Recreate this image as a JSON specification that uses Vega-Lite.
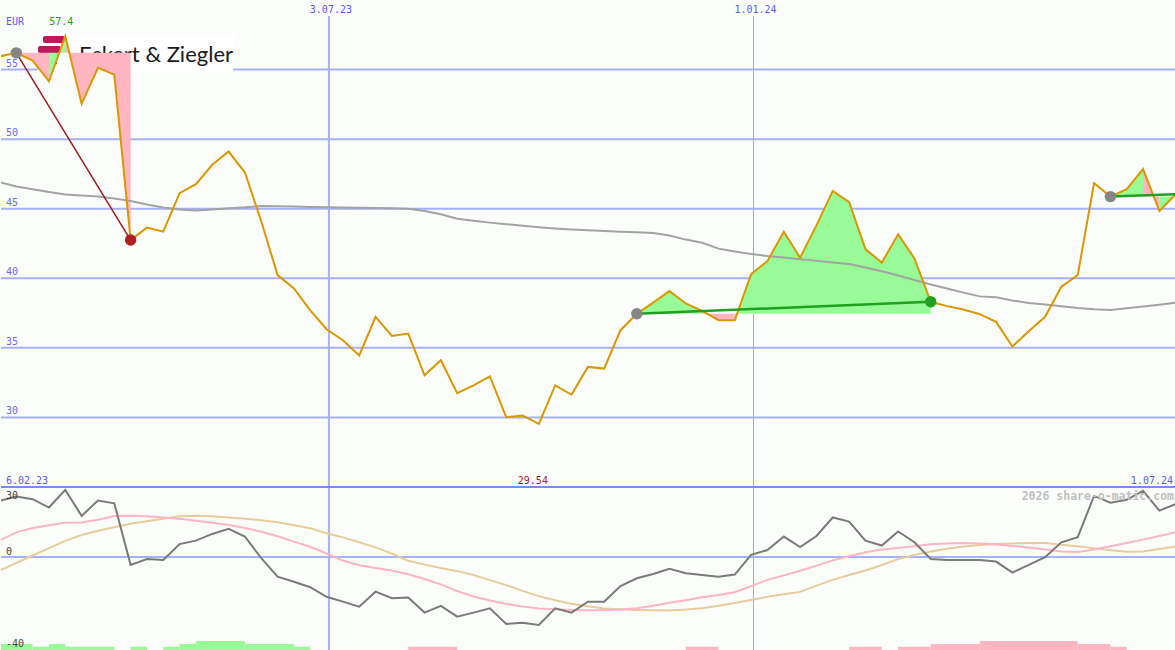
{
  "$schema": "https://vega.github.io/schema/vega-lite/v6.json",
  "background": "#fbfdfb",
  "padding": 0,
  "spacing": 0,
  "bounds": "flush",
  "config": {"view": {"stroke": null}, "text": {"font": "DejaVu Sans Mono", "fontSize": 10}},
  "resolve": {"scale": {"y": "independent", "color": "independent", "fill": "independent"}},
  "datasets": {
    "px": [
      {"d":"2023-02-12","p":55.95,"ma":46.9,"o":27.6,"pk":8.2,"tn":-6.6},
      {"d":"2023-02-19","p":56.2,"ma":46.6,"o":29.7,"pk":12.1,"tn":-3.0},
      {"d":"2023-02-26","p":55.65,"ma":46.4,"o":28.4,"pk":14.2,"tn":0.7},
      {"d":"2023-03-05","p":54.16,"ma":46.2,"o":24.3,"pk":15.6,"tn":4.3},
      {"d":"2023-03-12","p":57.4,"ma":46.03,"o":33.0,"pk":16.8,"tn":7.9},
      {"d":"2023-03-19","p":52.55,"ma":45.95,"o":20.2,"pk":16.9,"tn":10.8},
      {"d":"2023-03-26","p":55.12,"ma":45.88,"o":27.7,"pk":18.3,"tn":12.9},
      {"d":"2023-04-02","p":54.64,"ma":45.73,"o":26.4,"pk":20.1,"tn":14.6},
      {"d":"2023-04-09","p":42.75,"ma":45.55,"o":-3.9,"pk":20.2,"tn":16.3},
      {"d":"2023-04-16","p":43.64,"ma":45.3,"o":-1.0,"pk":20.0,"tn":17.6},
      {"d":"2023-04-23","p":43.35,"ma":45.08,"o":-1.5,"pk":19.4,"tn":18.8},
      {"d":"2023-04-30","p":46.12,"ma":44.95,"o":6.3,"pk":18.8,"tn":20.0},
      {"d":"2023-05-07","p":46.76,"ma":44.87,"o":8.0,"pk":17.8,"tn":20.2},
      {"d":"2023-05-14","p":48.16,"ma":44.95,"o":11.3,"pk":16.8,"tn":20.0},
      {"d":"2023-05-21","p":49.11,"ma":45.03,"o":13.8,"pk":15.7,"tn":19.4},
      {"d":"2023-05-28","p":47.6,"ma":45.1,"o":10.0,"pk":14.2,"tn":18.8},
      {"d":"2023-06-04","p":44.1,"ma":45.2,"o":-0.6,"pk":12.4,"tn":18.0},
      {"d":"2023-06-11","p":40.23,"ma":45.18,"o":-9.7,"pk":10.2,"tn":17.0},
      {"d":"2023-06-18","p":39.27,"ma":45.16,"o":-12.2,"pk":7.5,"tn":15.6},
      {"d":"2023-06-25","p":37.7,"ma":45.13,"o":-14.9,"pk":5.0,"tn":14.1},
      {"d":"2023-07-02","p":36.34,"ma":45.1,"o":-19.6,"pk":1.7,"tn":11.6},
      {"d":"2023-07-09","p":35.55,"ma":45.09,"o":-22.0,"pk":-1.8,"tn":9.6},
      {"d":"2023-07-16","p":34.45,"ma":45.07,"o":-24.5,"pk":-4.1,"tn":7.2},
      {"d":"2023-07-23","p":37.23,"ma":45.05,"o":-17.1,"pk":-5.4,"tn":4.7},
      {"d":"2023-07-30","p":35.86,"ma":45.03,"o":-20.3,"pk":-6.7,"tn":1.6},
      {"d":"2023-08-06","p":36.03,"ma":45.0,"o":-20.0,"pk":-8.5,"tn":-1.9},
      {"d":"2023-08-13","p":33.03,"ma":44.83,"o":-27.4,"pk":-10.9,"tn":-3.8},
      {"d":"2023-08-20","p":34.11,"ma":44.6,"o":-24.1,"pk":-13.5,"tn":-5.5},
      {"d":"2023-08-27","p":31.75,"ma":44.28,"o":-29.4,"pk":-16.8,"tn":-7.0},
      {"d":"2023-09-03","p":32.3,"ma":44.13,"o":-27.4,"pk":-19.5,"tn":-8.9},
      {"d":"2023-09-10","p":32.95,"ma":44.0,"o":-25.3,"pk":-21.4,"tn":-11.4},
      {"d":"2023-09-17","p":30.02,"ma":43.89,"o":-33.0,"pk":-23.2,"tn":-13.9},
      {"d":"2023-09-24","p":30.14,"ma":43.77,"o":-32.4,"pk":-24.4,"tn":-16.7},
      {"d":"2023-10-01","p":29.54,"ma":43.66,"o":-33.5,"pk":-25.4,"tn":-19.3},
      {"d":"2023-10-08","p":32.3,"ma":43.57,"o":-25.3,"pk":-25.8,"tn":-21.3},
      {"d":"2023-10-15","p":31.63,"ma":43.5,"o":-27.4,"pk":-26.1,"tn":-23.1},
      {"d":"2023-10-22","p":33.63,"ma":43.45,"o":-22.0,"pk":-26.3,"tn":-24.3},
      {"d":"2023-10-29","p":33.51,"ma":43.39,"o":-22.0,"pk":-26.3,"tn":-25.4},
      {"d":"2023-11-05","p":36.27,"ma":43.34,"o":-14.3,"pk":-25.9,"tn":-25.8},
      {"d":"2023-11-12","p":37.45,"ma":43.3,"o":-10.5,"pk":-25.3,"tn":-26.1},
      {"d":"2023-11-19","p":38.25,"ma":43.25,"o":-8.4,"pk":-24.0,"tn":-26.3},
      {"d":"2023-11-26","p":39.08,"ma":43.07,"o":-5.9,"pk":-22.6,"tn":-26.4},
      {"d":"2023-12-03","p":38.19,"ma":42.78,"o":-8.0,"pk":-21.3,"tn":-25.9},
      {"d":"2023-12-10","p":37.66,"ma":42.55,"o":-8.9,"pk":-19.8,"tn":-25.2},
      {"d":"2023-12-17","p":36.99,"ma":42.13,"o":-9.7,"pk":-18.7,"tn":-24.0},
      {"d":"2023-12-24","p":36.99,"ma":41.92,"o":-8.7,"pk":-17.4,"tn":-22.7},
      {"d":"2023-12-31","p":40.3,"ma":41.74,"o":1.0,"pk":-14.4,"tn":-21.2},
      {"d":"2024-01-07","p":41.24,"ma":41.6,"o":3.4,"pk":-11.3,"tn":-19.6},
      {"d":"2024-01-14","p":43.35,"ma":41.49,"o":10.0,"pk":-9.1,"tn":-18.4},
      {"d":"2024-01-21","p":41.48,"ma":41.37,"o":4.8,"pk":-6.8,"tn":-17.2},
      {"d":"2024-01-28","p":43.8,"ma":41.26,"o":10.3,"pk":-4.3,"tn":-14.1},
      {"d":"2024-02-04","p":46.28,"ma":41.14,"o":19.4,"pk":-1.7,"tn":-11.3},
      {"d":"2024-02-11","p":45.47,"ma":41.03,"o":17.4,"pk":0.3,"tn":-8.9},
      {"d":"2024-02-18","p":42.1,"ma":40.78,"o":8.0,"pk":2.3,"tn":-6.7},
      {"d":"2024-02-25","p":41.12,"ma":40.5,"o":5.6,"pk":3.7,"tn":-4.0},
      {"d":"2024-03-03","p":43.16,"ma":40.2,"o":12.5,"pk":4.4,"tn":-1.1},
      {"d":"2024-03-10","p":41.43,"ma":39.88,"o":7.2,"pk":5.3,"tn":1.0},
      {"d":"2024-03-17","p":38.31,"ma":39.55,"o":-1.0,"pk":6.2,"tn":2.7},
      {"d":"2024-03-24","p":38.0,"ma":39.27,"o":-1.5,"pk":6.6,"tn":4.0},
      {"d":"2024-03-31","p":37.75,"ma":38.97,"o":-1.5,"pk":6.9,"tn":5.1},
      {"d":"2024-04-07","p":37.42,"ma":38.7,"o":-1.5,"pk":6.6,"tn":5.9},
      {"d":"2024-04-14","p":36.87,"ma":38.64,"o":-2.3,"pk":6.1,"tn":6.3},
      {"d":"2024-04-21","p":35.1,"ma":38.4,"o":-7.7,"pk":5.4,"tn":6.6},
      {"d":"2024-04-28","p":36.2,"ma":38.23,"o":-3.9,"pk":4.6,"tn":6.9},
      {"d":"2024-05-05","p":37.23,"ma":38.11,"o":-0.1,"pk":3.6,"tn":6.8},
      {"d":"2024-05-12","p":39.39,"ma":37.99,"o":7.2,"pk":2.7,"tn":6.0},
      {"d":"2024-05-19","p":40.23,"ma":37.87,"o":9.7,"pk":2.4,"tn":5.2},
      {"d":"2024-05-26","p":46.84,"ma":37.78,"o":30.0,"pk":3.6,"tn":4.2},
      {"d":"2024-06-02","p":45.87,"ma":37.72,"o":26.7,"pk":5.2,"tn":3.3},
      {"d":"2024-06-09","p":46.4,"ma":37.85,"o":28.1,"pk":6.8,"tn":2.5},
      {"d":"2024-06-16","p":47.85,"ma":37.97,"o":32.5,"pk":8.5,"tn":2.7},
      {"d":"2024-06-23","p":44.84,"ma":38.1,"o":22.8,"pk":10.3,"tn":3.9},
      {"d":"2024-06-30","p":46.04,"ma":38.24,"o":26.0,"pk":12.2,"tn":5.1}
    ],
    "fill": [
      {"g":"A","s":"dn","d":"2023-02-19","p":56.2,"l":56.2},
      {"g":"A","s":"dn","d":"2023-02-26","p":55.65,"l":56.2},
      {"g":"A","s":"dn","d":"2023-03-05","p":54.16,"l":56.2},
      {"g":"B","s":"up","d":"2023-03-05","p":54.16,"l":56.2},
      {"g":"B","s":"up","d":"2023-03-12","p":57.4,"l":56.2},
      {"g":"C","s":"dn","d":"2023-03-12","p":57.4,"l":56.2},
      {"g":"C","s":"dn","d":"2023-03-19","p":52.55,"l":56.2},
      {"g":"C","s":"dn","d":"2023-03-26","p":55.12,"l":56.2},
      {"g":"C","s":"dn","d":"2023-04-02","p":54.64,"l":56.2},
      {"g":"C","s":"dn","d":"2023-04-09","p":42.75,"l":56.2},
      {"g":"D","s":"up","d":"2023-11-12","p":37.45,"l":37.45},
      {"g":"D","s":"up","d":"2023-11-19","p":38.25,"l":37.45},
      {"g":"D","s":"up","d":"2023-11-26","p":39.08,"l":37.45},
      {"g":"D","s":"up","d":"2023-12-03","p":38.19,"l":37.45},
      {"g":"D","s":"up","d":"2023-12-10","p":37.66,"l":37.45},
      {"g":"E","s":"dn","d":"2023-12-10","p":37.66,"l":37.45},
      {"g":"E","s":"dn","d":"2023-12-17","p":36.99,"l":37.45},
      {"g":"E","s":"dn","d":"2023-12-24","p":36.99,"l":37.45},
      {"g":"F","s":"up","d":"2023-12-24","p":36.99,"l":37.45},
      {"g":"F","s":"up","d":"2023-12-31","p":40.3,"l":37.45},
      {"g":"F","s":"up","d":"2024-01-07","p":41.24,"l":37.45},
      {"g":"F","s":"up","d":"2024-01-14","p":43.35,"l":37.45},
      {"g":"F","s":"up","d":"2024-01-21","p":41.48,"l":37.45},
      {"g":"F","s":"up","d":"2024-01-28","p":43.8,"l":37.45},
      {"g":"F","s":"up","d":"2024-02-04","p":46.28,"l":37.45},
      {"g":"F","s":"up","d":"2024-02-11","p":45.47,"l":37.45},
      {"g":"F","s":"up","d":"2024-02-18","p":42.1,"l":37.45},
      {"g":"F","s":"up","d":"2024-02-25","p":41.12,"l":37.45},
      {"g":"F","s":"up","d":"2024-03-03","p":43.16,"l":37.45},
      {"g":"F","s":"up","d":"2024-03-10","p":41.43,"l":37.45},
      {"g":"F","s":"up","d":"2024-03-17","p":38.31,"l":37.45},
      {"g":"G","s":"up","d":"2024-06-02","p":45.87,"l":45.87},
      {"g":"G","s":"up","d":"2024-06-09","p":46.4,"l":45.87},
      {"g":"G","s":"up","d":"2024-06-16","p":47.85,"l":45.87},
      {"g":"H","s":"dn","d":"2024-06-16","p":47.85,"l":45.87},
      {"g":"H","s":"dn","d":"2024-06-23","p":44.84,"l":45.87},
      {"g":"I","s":"up","d":"2024-06-23","p":44.84,"l":45.87},
      {"g":"I","s":"up","d":"2024-06-30","p":46.04,"l":45.87}
    ],
    "trades": [
      {"t":"t1","d":"2023-02-19","p":56.2},
      {"t":"t1","d":"2023-04-09","p":42.75},
      {"t":"t2","d":"2023-11-12","p":37.45},
      {"t":"t2","d":"2024-03-17","p":38.31},
      {"t":"t3","d":"2024-06-02","p":45.87},
      {"t":"t3","d":"2024-06-30","p":46.04}
    ],
    "pts": [
      {"k":"entry","d":"2023-02-19","p":56.2},
      {"k":"loss","d":"2023-04-09","p":42.75},
      {"k":"entry","d":"2023-11-12","p":37.45},
      {"k":"win","d":"2024-03-17","p":38.31},
      {"k":"entry","d":"2024-06-02","p":45.87}
    ],
    "logo": [
      {"a":"2023-03-02T10:30:00Z","b":"2023-03-11T20:00:00Z","y1":57.41,"y2":56.91},
      {"a":"2023-02-28T07:00:00Z","b":"2023-03-10T04:00:00Z","y1":56.69,"y2":56.19},
      {"a":"2023-03-02T21:00:00Z","b":"2023-03-08T10:30:00Z","y1":55.98,"y2":55.33}
    ],
    "bars": [
      {"s":"up","a":"2023-02-12","b":"2023-02-26","top":-42.85},
      {"s":"up","a":"2023-02-26","b":"2023-03-05","top":-44.2},
      {"s":"up","a":"2023-03-05","b":"2023-03-12","top":-42.85},
      {"s":"up","a":"2023-03-12","b":"2023-04-02","top":-44.2},
      {"s":"up","a":"2023-04-09","b":"2023-04-16","top":-44.2},
      {"s":"up","a":"2023-04-23","b":"2023-04-30","top":-44.2},
      {"s":"up","a":"2023-04-30","b":"2023-05-07","top":-42.85},
      {"s":"up","a":"2023-05-07","b":"2023-05-28","top":-41.4},
      {"s":"up","a":"2023-05-28","b":"2023-06-18","top":-42.85},
      {"s":"up","a":"2023-06-18","b":"2023-06-25","top":-44.2},
      {"s":"dn","a":"2023-08-06","b":"2023-08-27","top":-44.2},
      {"s":"dn","a":"2023-12-03","b":"2023-12-17","top":-44.2},
      {"s":"dn","a":"2024-02-11","b":"2024-02-25","top":-44.2},
      {"s":"dn","a":"2024-03-03","b":"2024-03-17","top":-44.2},
      {"s":"dn","a":"2024-03-17","b":"2024-04-07","top":-42.85},
      {"s":"dn","a":"2024-04-07","b":"2024-05-19","top":-41.4},
      {"s":"dn","a":"2024-05-19","b":"2024-06-02","top":-42.85},
      {"s":"dn","a":"2024-06-02","b":"2024-06-09","top":-44.2}
    ]
  },
  "vconcat": [
    {
      "width": 1175,
      "height": 487,
      "resolve": {"scale": {"color": "independent", "fill": "independent"}},
      "layer": [
        {
          "data": {"values": [{"v":30},{"v":35},{"v":40},{"v":45},{"v":50},{"v":55}]},
          "mark": {"type": "rule", "color": "#a7b1f5", "strokeWidth": 2},
          "encoding": {"y": {"field": "v", "type": "quantitative", "scale": {"domain": [25, 60], "nice": false, "zero": false}, "axis": null}}
        },
        {
          "data": {"values": [{}]},
          "mark": {"type": "rule", "color": "#a7b1f5", "strokeWidth": 2},
          "encoding": {
            "x": {"datum": {"year":2023,"month":7,"date":3,"utc":true}, "type": "temporal", "scale": {"type":"utc","domain":[{"year":2023,"month":2,"date":12,"hours":10,"minutes":30,"utc":true},{"year":2024,"month":6,"date":30,"hours":3,"utc":true}]}, "axis": null},
            "y": {"datum": 58.85, "type": "quantitative", "scale": {"domain": [25, 60], "nice": false, "zero": false}, "axis": null},
            "y2": {"datum": 25}
          }
        },
        {
          "data": {"values": [{}]},
          "mark": {"type": "rule", "color": "#9ea8ee", "strokeWidth": 1},
          "encoding": {
            "x": {"datum": {"year":2024,"month":1,"date":1,"utc":true}, "type": "temporal", "scale": {"type":"utc","domain":[{"year":2023,"month":2,"date":12,"hours":10,"minutes":30,"utc":true},{"year":2024,"month":6,"date":30,"hours":3,"utc":true}]}, "axis": null},
            "y": {"datum": 58.85, "type": "quantitative", "scale": {"domain": [25, 60], "nice": false, "zero": false}, "axis": null},
            "y2": {"datum": 25}
          }
        },
        {
          "data": {"values": [{}]},
          "mark": {"type": "rect", "color": "#ffffff"},
          "encoding": {
            "x": {"datum": {"year":2023,"month":2,"date":28,"hours":7,"utc":true}, "type": "temporal", "scale": {"type":"utc","domain":[{"year":2023,"month":2,"date":12,"hours":10,"minutes":30,"utc":true},{"year":2024,"month":6,"date":30,"hours":3,"utc":true}]}, "axis": null},
            "x2": {"datum": {"year":2023,"month":5,"date":23,"utc":true}},
            "y": {"datum": 57.6, "type": "quantitative", "scale": {"domain": [25, 60], "nice": false, "zero": false}, "axis": null},
            "y2": {"datum": 54.85}
          }
        },
        {
          "data": {"name": "logo"},
          "mark": {"type": "rect", "color": "#c0185a", "cornerRadius": 2},
          "encoding": {
            "x": {"field": "a", "type": "temporal", "scale": {"type":"utc","domain":[{"year":2023,"month":2,"date":12,"hours":10,"minutes":30,"utc":true},{"year":2024,"month":6,"date":30,"hours":3,"utc":true}]}, "axis": null},
            "x2": {"field": "b"},
            "y": {"field": "y1", "type": "quantitative", "scale": {"domain": [25, 60], "nice": false, "zero": false}, "axis": null},
            "y2": {"field": "y2"}
          }
        },
        {
          "data": {"values": [{"t": "Eckert & Ziegler"}]},
          "mark": {"type": "text", "font": "Lato", "fontSize": 22, "color": "#1a1a1a", "align": "left", "baseline": "alphabetic"},
          "encoding": {
            "x": {"datum": {"year":2023,"month":3,"date":17,"hours":21,"utc":true}, "type": "temporal", "scale": {"type":"utc","domain":[{"year":2023,"month":2,"date":12,"hours":10,"minutes":30,"utc":true},{"year":2024,"month":6,"date":30,"hours":3,"utc":true}]}, "axis": null},
            "y": {"datum": 55.57, "type": "quantitative", "scale": {"domain": [25, 60], "nice": false, "zero": false}, "axis": null},
            "text": {"field": "t"}
          }
        },
        {
          "data": {"name": "fill"},
          "mark": {"type": "area", "interpolate": "linear", "opacity": 1},
          "encoding": {
            "x": {"field": "d", "type": "temporal", "scale": {"type":"utc","domain":[{"year":2023,"month":2,"date":12,"hours":10,"minutes":30,"utc":true},{"year":2024,"month":6,"date":30,"hours":3,"utc":true}]}, "axis": null},
            "y": {"field": "p", "type": "quantitative", "scale": {"domain": [25, 60], "nice": false, "zero": false}, "axis": null},
            "y2": {"field": "l"},
            "color": {"field": "s", "type": "nominal", "scale": {"domain": ["up", "dn"], "range": ["#98fb98", "#ffb6c1"]}, "legend": null},
            "detail": {"field": "g"}
          }
        },
        {
          "data": {"name": "px"},
          "mark": {"type": "line", "color": "#a3a3a3", "strokeWidth": 2, "clip": true},
          "encoding": {
            "x": {"field": "d", "type": "temporal", "scale": {"type":"utc","domain":[{"year":2023,"month":2,"date":12,"hours":10,"minutes":30,"utc":true},{"year":2024,"month":6,"date":30,"hours":3,"utc":true}]}, "axis": null},
            "y": {"field": "ma", "type": "quantitative", "scale": {"domain": [25, 60], "nice": false, "zero": false}, "axis": null}
          }
        },
        {
          "data": {"name": "px"},
          "mark": {"type": "line", "color": "#dc9600", "strokeWidth": 2, "clip": true},
          "encoding": {
            "x": {"field": "d", "type": "temporal", "scale": {"type":"utc","domain":[{"year":2023,"month":2,"date":12,"hours":10,"minutes":30,"utc":true},{"year":2024,"month":6,"date":30,"hours":3,"utc":true}]}, "axis": null},
            "y": {"field": "p", "type": "quantitative", "scale": {"domain": [25, 60], "nice": false, "zero": false}, "axis": null}
          }
        },
        {
          "data": {"name": "trades"},
          "transform": [{"filter": "datum.t === 't1'"}],
          "mark": {"type": "line", "color": "#a01c1c", "strokeWidth": 1.5},
          "encoding": {
            "x": {"field": "d", "type": "temporal", "scale": {"type":"utc","domain":[{"year":2023,"month":2,"date":12,"hours":10,"minutes":30,"utc":true},{"year":2024,"month":6,"date":30,"hours":3,"utc":true}]}, "axis": null},
            "y": {"field": "p", "type": "quantitative", "scale": {"domain": [25, 60], "nice": false, "zero": false}, "axis": null}
          }
        },
        {
          "data": {"name": "trades"},
          "transform": [{"filter": "datum.t !== 't1'"}],
          "mark": {"type": "line", "color": "#22a022", "strokeWidth": 2.5},
          "encoding": {
            "x": {"field": "d", "type": "temporal", "scale": {"type":"utc","domain":[{"year":2023,"month":2,"date":12,"hours":10,"minutes":30,"utc":true},{"year":2024,"month":6,"date":30,"hours":3,"utc":true}]}, "axis": null},
            "y": {"field": "p", "type": "quantitative", "scale": {"domain": [25, 60], "nice": false, "zero": false}, "axis": null},
            "detail": {"field": "t"}
          }
        },
        {
          "data": {"name": "pts"},
          "mark": {"type": "circle", "size": 130, "opacity": 1},
          "encoding": {
            "x": {"field": "d", "type": "temporal", "scale": {"type":"utc","domain":[{"year":2023,"month":2,"date":12,"hours":10,"minutes":30,"utc":true},{"year":2024,"month":6,"date":30,"hours":3,"utc":true}]}, "axis": null},
            "y": {"field": "p", "type": "quantitative", "scale": {"domain": [25, 60], "nice": false, "zero": false}, "axis": null},
            "fill": {"field": "k", "type": "nominal", "scale": {"domain": ["entry", "loss", "win"], "range": ["#858585", "#b02020", "#22a022"]}, "legend": null}
          }
        },
        {
          "data": {"values": [{"v":55,"t":"55"},{"v":50,"t":"50"},{"v":45,"t":"45"},{"v":40,"t":"40"},{"v":35,"t":"35"},{"v":30,"t":"30"}]},
          "mark": {"type": "text", "align": "left", "baseline": "alphabetic", "dx": 5, "dy": -3, "color": "#6a6af0"},
          "encoding": {
            "x": {"datum": {"year":2023,"month":2,"date":12,"hours":10,"minutes":30,"utc":true}, "type": "temporal", "scale": {"type":"utc","domain":[{"year":2023,"month":2,"date":12,"hours":10,"minutes":30,"utc":true},{"year":2024,"month":6,"date":30,"hours":3,"utc":true}]}, "axis": null},
            "y": {"field": "v", "type": "quantitative", "scale": {"domain": [25, 60], "nice": false, "zero": false}, "axis": null},
            "text": {"field": "t"}
          }
        },
        {
          "data": {"values": [{"t": "EUR"}]},
          "mark": {"type": "text", "align": "left", "baseline": "alphabetic", "dx": 5, "color": "#5a5af0"},
          "encoding": {
            "x": {"datum": {"year":2023,"month":2,"date":12,"hours":10,"minutes":30,"utc":true}, "type": "temporal", "scale": {"type":"utc","domain":[{"year":2023,"month":2,"date":12,"hours":10,"minutes":30,"utc":true},{"year":2024,"month":6,"date":30,"hours":3,"utc":true}]}, "axis": null},
            "y": {"datum": 58.2, "type": "quantitative", "scale": {"domain": [25, 60], "nice": false, "zero": false}, "axis": null},
            "text": {"field": "t"}
          }
        },
        {
          "data": {"values": [{"t": "57.4"}]},
          "mark": {"type": "text", "align": "center", "baseline": "alphabetic", "dx": -4, "color": "#20a020"},
          "encoding": {
            "x": {"datum": {"year":2023,"month":3,"date":12,"utc":true}, "type": "temporal", "scale": {"type":"utc","domain":[{"year":2023,"month":2,"date":12,"hours":10,"minutes":30,"utc":true},{"year":2024,"month":6,"date":30,"hours":3,"utc":true}]}, "axis": null},
            "y": {"datum": 58.2, "type": "quantitative", "scale": {"domain": [25, 60], "nice": false, "zero": false}, "axis": null},
            "text": {"field": "t"}
          }
        },
        {
          "data": {"values": [{"t": "3.07.23"}]},
          "mark": {"type": "text", "align": "center", "baseline": "alphabetic", "dx": 2, "color": "#5a5af0"},
          "encoding": {
            "x": {"datum": {"year":2023,"month":7,"date":3,"utc":true}, "type": "temporal", "scale": {"type":"utc","domain":[{"year":2023,"month":2,"date":12,"hours":10,"minutes":30,"utc":true},{"year":2024,"month":6,"date":30,"hours":3,"utc":true}]}, "axis": null},
            "y": {"datum": 59.07, "type": "quantitative", "scale": {"domain": [25, 60], "nice": false, "zero": false}, "axis": null},
            "text": {"field": "t"}
          }
        },
        {
          "data": {"values": [{"t": "1.01.24"}]},
          "mark": {"type": "text", "align": "center", "baseline": "alphabetic", "dx": 2, "color": "#5a5af0"},
          "encoding": {
            "x": {"datum": {"year":2024,"month":1,"date":1,"utc":true}, "type": "temporal", "scale": {"type":"utc","domain":[{"year":2023,"month":2,"date":12,"hours":10,"minutes":30,"utc":true},{"year":2024,"month":6,"date":30,"hours":3,"utc":true}]}, "axis": null},
            "y": {"datum": 59.07, "type": "quantitative", "scale": {"domain": [25, 60], "nice": false, "zero": false}, "axis": null},
            "text": {"field": "t"}
          }
        },
        {
          "data": {"values": [{"t": "6.02.23"}]},
          "mark": {"type": "text", "align": "left", "baseline": "alphabetic", "dx": 5, "color": "#5a5af0"},
          "encoding": {
            "x": {"datum": {"year":2023,"month":2,"date":12,"hours":10,"minutes":30,"utc":true}, "type": "temporal", "scale": {"type":"utc","domain":[{"year":2023,"month":2,"date":12,"hours":10,"minutes":30,"utc":true},{"year":2024,"month":6,"date":30,"hours":3,"utc":true}]}, "axis": null},
            "y": {"datum": 25.22, "type": "quantitative", "scale": {"domain": [25, 60], "nice": false, "zero": false}, "axis": null},
            "text": {"field": "t"}
          }
        },
        {
          "data": {"values": [{"t": "29.54"}]},
          "mark": {"type": "text", "align": "center", "baseline": "alphabetic", "dx": -6, "color": "#b02020"},
          "encoding": {
            "x": {"datum": {"year":2023,"month":10,"date":1,"utc":true}, "type": "temporal", "scale": {"type":"utc","domain":[{"year":2023,"month":2,"date":12,"hours":10,"minutes":30,"utc":true},{"year":2024,"month":6,"date":30,"hours":3,"utc":true}]}, "axis": null},
            "y": {"datum": 25.22, "type": "quantitative", "scale": {"domain": [25, 60], "nice": false, "zero": false}, "axis": null},
            "text": {"field": "t"}
          }
        },
        {
          "data": {"values": [{"t": "1.07.24"}]},
          "mark": {"type": "text", "align": "right", "baseline": "alphabetic", "dx": -3, "color": "#5a5af0"},
          "encoding": {
            "x": {"datum": {"year":2024,"month":6,"date":30,"hours":3,"utc":true}, "type": "temporal", "scale": {"type":"utc","domain":[{"year":2023,"month":2,"date":12,"hours":10,"minutes":30,"utc":true},{"year":2024,"month":6,"date":30,"hours":3,"utc":true}]}, "axis": null},
            "y": {"datum": 25.22, "type": "quantitative", "scale": {"domain": [25, 60], "nice": false, "zero": false}, "axis": null},
            "text": {"field": "t"}
          }
        }
      ]
    },
    {
      "width": 1175,
      "height": 163,
      "resolve": {"scale": {"color": "independent"}},
      "layer": [
        {
          "data": {"values": [{"v": 0}]},
          "mark": {"type": "rule", "color": "#a7b1f5", "strokeWidth": 2},
          "encoding": {"y": {"field": "v", "type": "quantitative", "scale": {"domain": [-45.8, 34.4], "nice": false, "zero": false}, "axis": null}}
        },
        {
          "data": {"values": [{}]},
          "mark": {"type": "rule", "color": "#a7b1f5", "strokeWidth": 2},
          "encoding": {
            "x": {"datum": {"year":2023,"month":7,"date":3,"utc":true}, "type": "temporal", "scale": {"type":"utc","domain":[{"year":2023,"month":2,"date":12,"hours":10,"minutes":30,"utc":true},{"year":2024,"month":6,"date":30,"hours":3,"utc":true}]}, "axis": null}
          }
        },
        {
          "data": {"values": [{}]},
          "mark": {"type": "rule", "color": "#9ea8ee", "strokeWidth": 1},
          "encoding": {
            "x": {"datum": {"year":2024,"month":1,"date":1,"utc":true}, "type": "temporal", "scale": {"type":"utc","domain":[{"year":2023,"month":2,"date":12,"hours":10,"minutes":30,"utc":true},{"year":2024,"month":6,"date":30,"hours":3,"utc":true}]}, "axis": null}
          }
        },
        {
          "data": {"name": "bars"},
          "mark": {"type": "rect", "clip": true},
          "encoding": {
            "x": {"field": "a", "type": "temporal", "scale": {"type":"utc","domain":[{"year":2023,"month":2,"date":12,"hours":10,"minutes":30,"utc":true},{"year":2024,"month":6,"date":30,"hours":3,"utc":true}]}, "axis": null},
            "x2": {"field": "b"},
            "y": {"field": "top", "type": "quantitative", "scale": {"domain": [-45.8, 34.4], "nice": false, "zero": false}, "axis": null},
            "y2": {"datum": -45.8},
            "color": {"field": "s", "type": "nominal", "scale": {"domain": ["up", "dn"], "range": ["#98fb98", "#ffb6c1"]}, "legend": null}
          }
        },
        {
          "data": {"name": "px"},
          "mark": {"type": "line", "color": "#e6cc9c", "strokeWidth": 2, "clip": true},
          "encoding": {
            "x": {"field": "d", "type": "temporal", "scale": {"type":"utc","domain":[{"year":2023,"month":2,"date":12,"hours":10,"minutes":30,"utc":true},{"year":2024,"month":6,"date":30,"hours":3,"utc":true}]}, "axis": null},
            "y": {"field": "tn", "type": "quantitative", "scale": {"domain": [-45.8, 34.4], "nice": false, "zero": false}, "axis": null}
          }
        },
        {
          "data": {"name": "px"},
          "mark": {"type": "line", "color": "#ffb3c6", "strokeWidth": 2, "clip": true},
          "encoding": {
            "x": {"field": "d", "type": "temporal", "scale": {"type":"utc","domain":[{"year":2023,"month":2,"date":12,"hours":10,"minutes":30,"utc":true},{"year":2024,"month":6,"date":30,"hours":3,"utc":true}]}, "axis": null},
            "y": {"field": "pk", "type": "quantitative", "scale": {"domain": [-45.8, 34.4], "nice": false, "zero": false}, "axis": null}
          }
        },
        {
          "data": {"name": "px"},
          "mark": {"type": "line", "color": "#7a7a7a", "strokeWidth": 2, "clip": true},
          "encoding": {
            "x": {"field": "d", "type": "temporal", "scale": {"type":"utc","domain":[{"year":2023,"month":2,"date":12,"hours":10,"minutes":30,"utc":true},{"year":2024,"month":6,"date":30,"hours":3,"utc":true}]}, "axis": null},
            "y": {"field": "o", "type": "quantitative", "scale": {"domain": [-45.8, 34.4], "nice": false, "zero": false}, "axis": null}
          }
        },
        {
          "data": {"values": [{"v": 34.4}]},
          "mark": {"type": "rule", "color": "#7c8af0", "strokeWidth": 2},
          "encoding": {"y": {"field": "v", "type": "quantitative", "scale": {"domain": [-45.8, 34.4], "nice": false, "zero": false}, "axis": null}}
        },
        {
          "data": {"values": [{"t": "30"}]},
          "mark": {"type": "text", "align": "left", "baseline": "middle", "dx": 5, "color": "#444444"},
          "encoding": {
            "x": {"datum": {"year":2023,"month":2,"date":12,"hours":10,"minutes":30,"utc":true}, "type": "temporal", "scale": {"type":"utc","domain":[{"year":2023,"month":2,"date":12,"hours":10,"minutes":30,"utc":true},{"year":2024,"month":6,"date":30,"hours":3,"utc":true}]}, "axis": null},
            "y": {"datum": 30, "type": "quantitative", "scale": {"domain": [-45.8, 34.4], "nice": false, "zero": false}, "axis": null},
            "text": {"field": "t"}
          }
        },
        {
          "data": {"values": [{"t": "0"}]},
          "mark": {"type": "text", "align": "left", "baseline": "alphabetic", "dx": 5, "dy": -2, "color": "#444444"},
          "encoding": {
            "x": {"datum": {"year":2023,"month":2,"date":12,"hours":10,"minutes":30,"utc":true}, "type": "temporal", "scale": {"type":"utc","domain":[{"year":2023,"month":2,"date":12,"hours":10,"minutes":30,"utc":true},{"year":2024,"month":6,"date":30,"hours":3,"utc":true}]}, "axis": null},
            "y": {"datum": 0, "type": "quantitative", "scale": {"domain": [-45.8, 34.4], "nice": false, "zero": false}, "axis": null},
            "text": {"field": "t"}
          }
        },
        {
          "data": {"values": [{"t": "-40"}]},
          "mark": {"type": "text", "align": "left", "baseline": "top", "dx": 5, "dy": 1, "color": "#444444"},
          "encoding": {
            "x": {"datum": {"year":2023,"month":2,"date":12,"hours":10,"minutes":30,"utc":true}, "type": "temporal", "scale": {"type":"utc","domain":[{"year":2023,"month":2,"date":12,"hours":10,"minutes":30,"utc":true},{"year":2024,"month":6,"date":30,"hours":3,"utc":true}]}, "axis": null},
            "y": {"datum": -40, "type": "quantitative", "scale": {"domain": [-45.8, 34.4], "nice": false, "zero": false}, "axis": null},
            "text": {"field": "t"}
          }
        },
        {
          "data": {"values": [{"t": "2026 share-o-matic.com"}]},
          "mark": {"type": "text", "align": "right", "baseline": "alphabetic", "dx": -2, "color": "#c0c0c0", "fontWeight": "bold", "fontSize": 11.5},
          "encoding": {
            "x": {"datum": {"year":2024,"month":6,"date":30,"hours":3,"utc":true}, "type": "temporal", "scale": {"type":"utc","domain":[{"year":2023,"month":2,"date":12,"hours":10,"minutes":30,"utc":true},{"year":2024,"month":6,"date":30,"hours":3,"utc":true}]}, "axis": null},
            "y": {"datum": 28.0, "type": "quantitative", "scale": {"domain": [-45.8, 34.4], "nice": false, "zero": false}, "axis": null},
            "text": {"field": "t"}
          }
        }
      ]
    }
  ]
}
